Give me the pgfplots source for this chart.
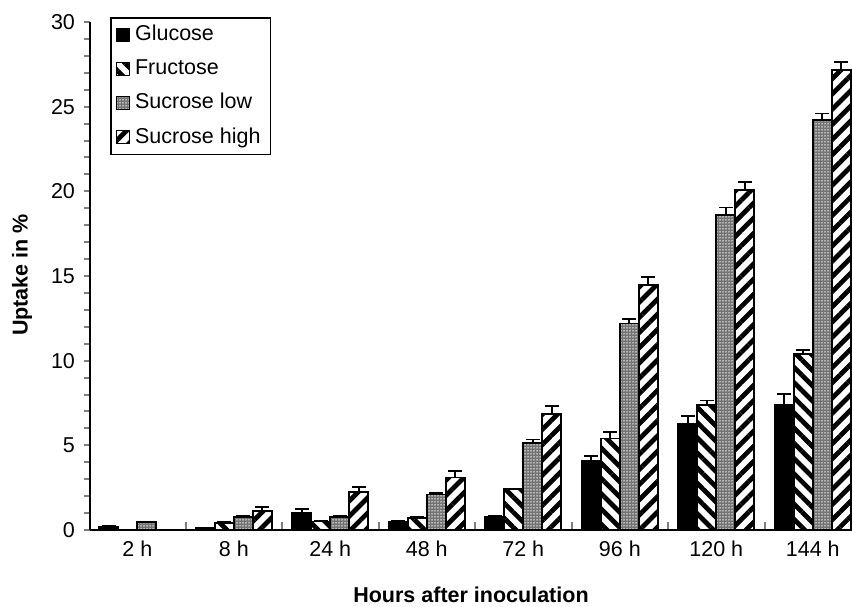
\documentclass[border=0pt]{standalone}
\usepackage{pgfplots}
\pgfplotsset{compat=1.18}
\usepackage{pgfplotstable}
\usepackage{fontspec}
\setmainfont{Liberation Sans}
\usetikzlibrary{patterns,patterns.meta}
\pgfplotstableread{
c G Ge F Fe SL SLe SH She
0 0.2 0.05 0 0 0.45 0.05 0 0
1 0.1 0 0.4 0.05 0.75 0.1 1.1 0.25
2 1.0 0.22 0.5 0.05 0.75 0.1 2.25 0.3
3 0.5 0.05 0.7 0.05 2.1 0.1 3.1 0.4
4 0.75 0.1 2.4 0.05 5.15 0.2 6.85 0.45
5 4.1 0.25 5.4 0.4 12.2 0.25 14.45 0.5
6 6.25 0.5 7.4 0.25 18.6 0.45 20.1 0.45
7 7.4 0.65 10.4 0.25 24.2 0.4 27.15 0.5
}\data
\begin{document}
\begin{tikzpicture}
\begin{axis}[
  at={(0,0)}, anchor=south west,
  scale only axis, width=304.8pt, height=203.2pt,
  axis lines*=left,
  axis line style={line width=0.8pt},
  ymin=0, ymax=30, ytick={0,5,...,30}, minor y tick num=4,
  xmin=-0.49, xmax=7.406,
  xtick={0.5,1.5,...,6.5},
  xticklabels={},
  xtick style={line width=0.8pt, yshift=3pt},
  extra x ticks={0,...,7},
  extra x tick labels={2 h,8 h,24 h,48 h,72 h,96 h,120 h,144 h},
  extra x tick style={xtick style={draw=none}},
  tick align=outside,
  ytick style={line width=0.8pt},
  major tick length=2.5pt, minor tick length=2.5pt,
  tick label style={font=\fontsize{8.6}{10}\selectfont},
  xticklabel style={yshift=1.5pt},
  /pgf/number format/assume math mode=true,
  xlabel={Hours after inoculation},
  ylabel={Uptake in \%},
  every axis x label/.style={at={(axis description cs:0.5,-0.128)}, anchor=center, font=\fontsize{8.6}{10}\selectfont\bfseries},
  every axis y label/.style={at={(axis description cs:-0.0892,0.502)}, anchor=center, rotate=90, font=\fontsize{8.6}{10}\selectfont\bfseries},
  ybar, bar width=0.197,
  error bars/error bar style={black, line width=0.7pt},
  legend style={at={(axis description cs:0.0262,1.0098)}, anchor=north west,
    draw=black, line width=0.7pt, font=\fontsize{8.6}{10}\selectfont,
    row sep=2pt, inner xsep=2pt, inner ysep=1pt},
  legend cell align=left,
  legend image code/.code={\draw[#1, line width=0.5pt] (0pt,-2.6pt) rectangle (5.2pt,2.6pt);},
]
\addplot[fill=black, draw=black, line width=0.7pt, bar shift=-0.2955,
  error bars/.cd, y dir=plus, y explicit, error mark options={rotate=90, mark size=2.8pt, line width=0.7pt}]
  table[x=c, y=G, y error=Ge]{\data};
\addplot[pattern={Lines[angle=-45,distance=4.3pt,line width=1.9pt]}, draw=black, line width=0.7pt, bar shift=-0.0985,
  error bars/.cd, y dir=plus, y explicit, error mark options={rotate=90, mark size=2.8pt, line width=0.7pt}]
  table[x=c, y=F, y error=Fe]{\data};
\addplot[fill=black!55, postaction={pattern={Dots[distance=1.2pt,radius=0.3pt]}, pattern color=white}, draw=black, line width=0.7pt, bar shift=0.0985,
  error bars/.cd, y dir=plus, y explicit, error mark options={rotate=90, mark size=2.8pt, line width=0.7pt}]
  table[x=c, y=SL, y error=SLe]{\data};
\addplot[pattern={Lines[angle=45,distance=4.3pt,line width=1.9pt]}, draw=black, line width=0.7pt, bar shift=0.2955,
  error bars/.cd, y dir=plus, y explicit, error mark options={rotate=90, mark size=2.8pt, line width=0.7pt}]
  table[x=c, y=SH, y error=She]{\data};
\legend{Glucose,Fructose,Sucrose low,Sucrose high}
\end{axis}
\pgfresetboundingbox
\path (-36pt,-30.8pt) rectangle (304.8pt,212pt);
\end{tikzpicture}
\end{document}
